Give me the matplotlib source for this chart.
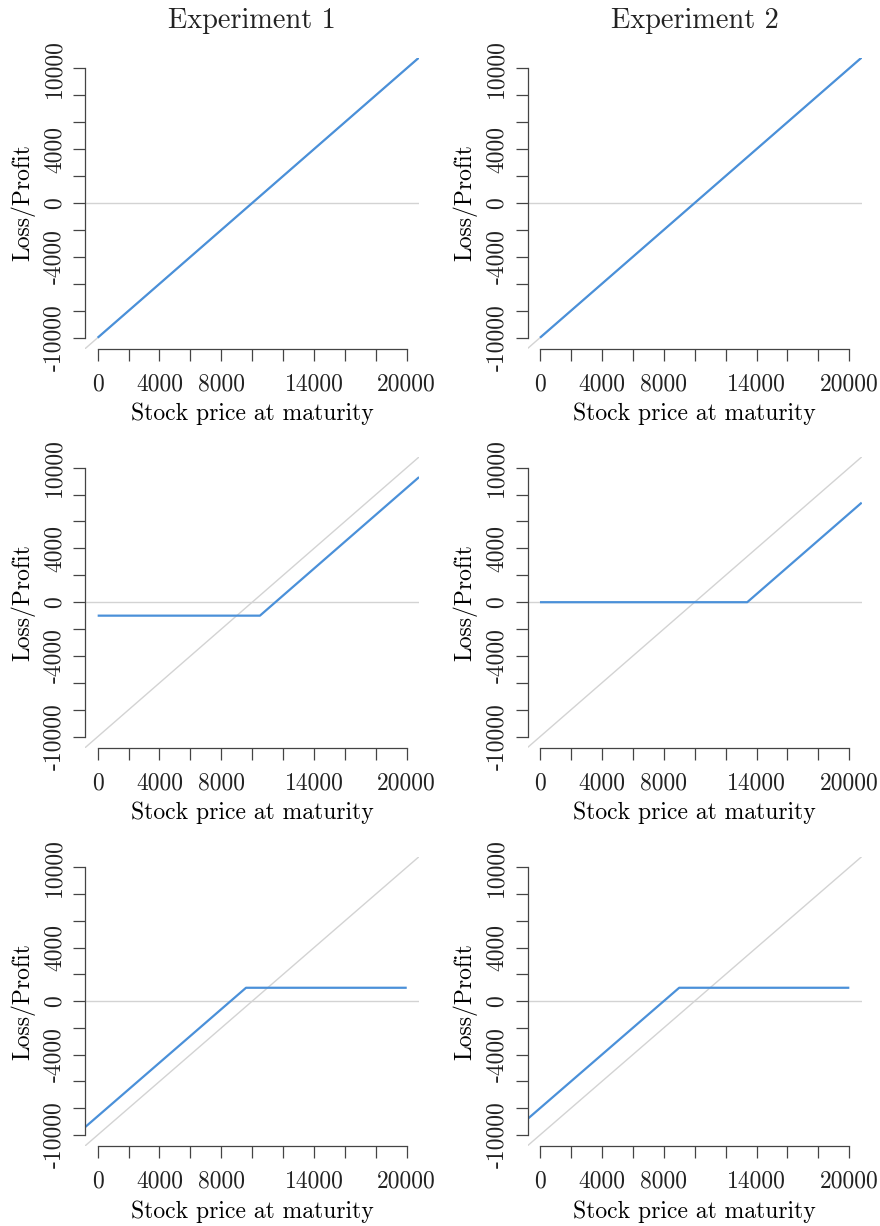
import numpy as np
import matplotlib
matplotlib.use("Agg")
import matplotlib.pyplot as plt

# stock bought at 10000, reference line drawn over the padded price range
price_ref = np.array([-800, 20800])
stock_cost = 10000

# strategy payoffs, breakpoints (price, profit)
exp1_stock_x = [0, 20800]
exp1_stock_y = [-10000, 10800]
exp2_stock_x = [0, 20800]
exp2_stock_y = [-10000, 10800]

exp1_call_x = [0, 10500, 20800]
exp1_call_y = [-1000, -1000, 9300]
exp2_call_x = [0, 13400, 20800]
exp2_call_y = [0, 0, 7400]

exp1_cov_x = [-800, 9600, 20000]
exp1_cov_y = [-9400, 1000, 1000]
exp2_cov_x = [-800, 9000, 20000]
exp2_cov_y = [-8800, 1000, 1000]

titles = ["Experiment 1", "Experiment 2"]
xticks = list(range(0, 20001, 2000))
xtick_shown = [0, 4000, 8000, 14000, 20000]
yticks = list(range(-10000, 10001, 2000))
ytick_shown = [-10000, -4000, 0, 4000, 10000]

plt.rcParams["font.family"] = ["cmr10", "DejaVu Serif"]
plt.rcParams["font.size"] = 17
plt.rcParams["text.color"] = "#222222"

BLUE = "#4a90d9"
GREY = "#d3d3d3"
AXC = "#444444"

W, H = 880, 1226
fig = plt.figure(figsize=(W / 100, H / 100), dpi=100)

# plot regions in pixels: left, right, top, bottom
cols = [(85.3, 419.1), (527.6, 861.7)]
rows = [(57.5, 348.5), (456.9, 747.5), (856.6, 1145.7)]

panels = [
    [(exp1_stock_x, exp1_stock_y), (exp2_stock_x, exp2_stock_y)],
    [(exp1_call_x, exp1_call_y), (exp2_call_x, exp2_call_y)],
    [(exp1_cov_x, exp1_cov_y), (exp2_cov_x, exp2_cov_y)],
]

for r, (top, bot) in enumerate(rows):
    for c, (lft, rgt) in enumerate(cols):
        ax = fig.add_axes([lft / W, 1 - bot / H, (rgt - lft) / W, (bot - top) / H])
        ax.set_xlim(-800, 20800)
        ax.set_ylim(-10800, 10800)

        ax.plot(price_ref, [0, 0], color=GREY, lw=1.0, zorder=1)
        ax.plot(price_ref, price_ref - stock_cost, color=GREY, lw=1.0, zorder=1)
        px, py = panels[r][c]
        ax.plot(px, py, color=BLUE, lw=1.6, zorder=2, solid_capstyle="butt")

        for s in ["top", "right"]:
            ax.spines[s].set_visible(False)
        ax.spines["left"].set_bounds(-10000, 10000)
        ax.spines["bottom"].set_bounds(0, 20000)
        for s in ["left", "bottom"]:
            ax.spines[s].set_color(AXC)
            ax.spines[s].set_linewidth(0.9)

        ax.set_xticks(xticks)
        ax.set_xticklabels([str(t) if t in xtick_shown else "" for t in xticks])
        ax.set_yticks(yticks)
        ax.set_yticklabels([str(t) if t in ytick_shown else "" for t in yticks],
                           rotation=90, va="center")
        ax.tick_params(axis="both", direction="out", length=8.7, width=0.9,
                       color=AXC, labelcolor="#222222")
        ax.tick_params(axis="x", pad=9)
        ax.tick_params(axis="y", pad=5.5)

        ax.set_xlabel("Stock price at maturity", labelpad=5.5)
        ax.set_ylabel("Loss/Profit", labelpad=6)
        if r == 0:
            ax.set_title(titles[c], pad=21)

fig.savefig("out.png", dpi=100)
